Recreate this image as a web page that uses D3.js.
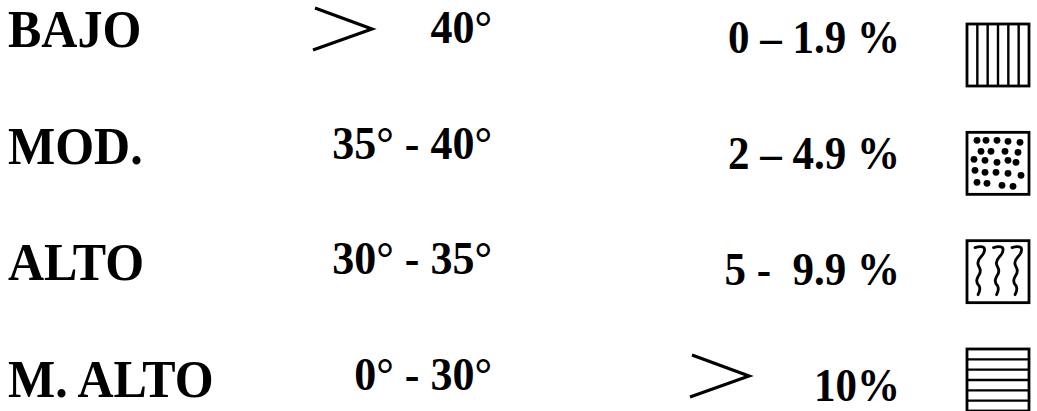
<!DOCTYPE html>
<html>
<head>
<meta charset="utf-8">
<script src="https://cdn.jsdelivr.net/npm/d3@7"></script>
<style>
  html, body { margin: 0; padding: 0; background: #fff; }
  svg { display: block; }
  text { font-family: "Liberation Serif", "Times New Roman", serif; font-weight: bold; fill: #000; }
</style>
</head>
<body>
<svg id="chart" width="1037" height="411"></svg>
<script>
// ============================================================
// Legend rows: risk level, slope angle, percentage, texture
// ============================================================
const levels   = ["BAJO", "MOD.", "ALTO", "M. ALTO"];
const angles   = ["> 40°", "35° - 40°", "30° - 35°", "0° - 30°"];
const percents = ["0 – 1.9 %", "2 – 4.9 %", "5 -  9.9 %", "> 10%"];
const textures = ["vertical", "dots", "waves", "horizontal"];

// dot texture (box-relative, 62px box)
const DOTS = [
    [10, 8], [19, 8], [30, 8], [41, 9], [53, 10],
    [14, 19], [24, 19], [38, 19], [51, 20],
    [7, 27], [18, 28], [30, 30], [41, 28], [49, 30],
    [8, 38], [18, 40], [29, 40], [41, 41], [54, 43],
    [10, 50], [20, 51], [35, 53], [46, 54]
];

const svg = d3.select("#chart");

// each column sits a little differently on the scan, so one row scale per column
function rowScale(first, last) {
    return d3.scalePoint().domain(levels).range([first, last]);
}
const yLevel   = rowScale(47, 397);
const yAngle   = rowScale(43, 390);
const yPercent = rowScale(53, 401);
const yChevron = rowScale(29, 376);
const yBox     = rowScale(24, 349);

// the scan is slightly stretched vertically
const STRETCH = 1.06;

// thin ">" drawn as a stroke, like the scan
function chevron(g, x, cy) {
    g.append("path")
        .attr("d", `M${x + 2},${cy - 21} L${x + 59},${cy} L${x},${cy + 21}`)
        .attr("fill", "none")
        .attr("stroke", "#000")
        .attr("stroke-width", 3.2)
        .attr("stroke-linejoin", "miter");
}

// --- column 1: level names ---
svg.append("g").selectAll("text")
    .data(levels)
    .enter()
    .append("text")
    .attr("transform", function (d) { return `translate(8,${yLevel(d)}) scale(1,${STRETCH})`; })
    .attr("font-size", 50)
    .attr("xml:space", "preserve")
    .text(function (d) { return d; });

// --- columns 2 and 3: values, right aligned, with optional ">" ---
function valueColumn(values, yScale, right, chevX, size) {
    const g = svg.append("g");
    values.forEach(function (v, i) {
        const lvl = levels[i];
        let label = v;
        if (v.indexOf("> ") === 0) {
            label = v.substring(2);
            chevron(g, chevX, yChevron(lvl));
        }
        g.append("text")
            .attr("transform", `translate(${right},${yScale(lvl)}) scale(1,${STRETCH})`)
            .attr("text-anchor", "end")
            .attr("font-size", size)
            .attr("xml:space", "preserve")
            .text(label);
    });
}
valueColumn(angles, yAngle, 492, 313, 44);
valueColumn(percents, yPercent, 900, 690, 43);

// --- column 4: texture swatches ---
const BOX = 62;
const boxX = 967;
const boxes = svg.append("g");

textures.forEach(function (t, i) {
    const g = boxes.append("g")
        .attr("transform", `translate(${boxX},${yBox(levels[i])})`);

    if (t === "vertical") {
        d3.range(1, 6).forEach(function (k) {
            g.append("line")
                .attr("x1", k * BOX / 6).attr("x2", k * BOX / 6)
                .attr("y1", 0).attr("y2", BOX)
                .attr("stroke", "#000").attr("stroke-width", 2.4);
        });
    } else if (t === "horizontal") {
        d3.range(1, 6).forEach(function (k) {
            g.append("line")
                .attr("x1", 0).attr("x2", BOX)
                .attr("y1", k * BOX / 6).attr("y2", k * BOX / 6)
                .attr("stroke", "#000").attr("stroke-width", 2.4);
        });
    } else if (t === "dots") {
        g.selectAll("circle")
            .data(DOTS)
            .enter()
            .append("circle")
            .attr("cx", function (d) { return d[0]; })
            .attr("cy", function (d) { return d[1]; })
            .attr("r", 3.4)
            .attr("fill", "#000");
    } else if (t === "waves") {
        d3.range(3).forEach(function (k) {
            const x0 = 8 + k * 18.5;
            g.append("path")
                .attr("d",
                    `M${x0},7 Q${x0 + 6},5 ${x0 + 9},7 Q${x0 + 11},11 ${x0 + 6},16 ` +
                    `Q${x0 + 1},21 ${x0 + 4},26 Q${x0 + 7},31 ${x0 + 3},36 ` +
                    `Q${x0},41 ${x0 + 4},45 Q${x0 + 6},49 ${x0 + 3},54`)
                .attr("fill", "none")
                .attr("stroke", "#000")
                .attr("stroke-width", 2.8)
                .attr("stroke-linecap", "round");
        });
    }

    g.append("rect")
        .attr("width", BOX).attr("height", BOX)
        .attr("fill", "none")
        .attr("stroke", "#000")
        .attr("stroke-width", 2.8);
});
</script>
</body>
</html>
